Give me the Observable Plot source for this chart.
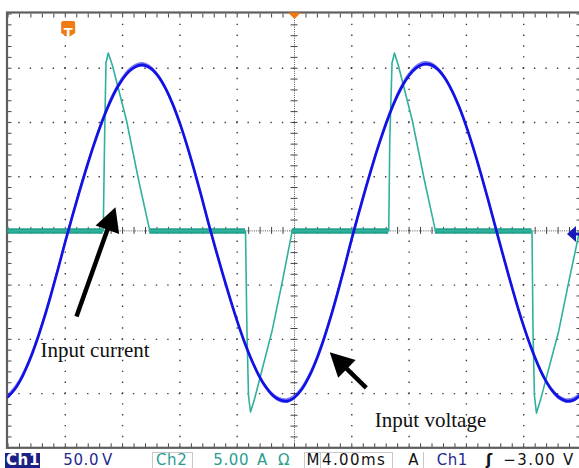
<!DOCTYPE html>
<html>
<head>
<meta charset="utf-8">
<script src="https://cdn.jsdelivr.net/npm/d3@7"></script>
<script src="https://cdn.jsdelivr.net/npm/@observablehq/plot@0.6"></script>
<style>
  html, body { margin: 0; padding: 0; background: #fff; overflow: hidden; }
  #scope { position: relative; width: 579px; height: 468px; overflow: hidden; background: #fff; }
  #scope svg { position: absolute; left: 0; top: 0; }
  #status { position: absolute; left: 0; top: 452.8px; width: 579px; height: 15px;
            font-family: "DejaVu Sans", sans-serif; font-size: 15px; line-height: 15px; letter-spacing: 0.6px; }
  #status span { position: absolute; top: 0; white-space: pre; }
  #status .sep { position: absolute; top: -1px; width: 0; height: 16px; border-left: 1px solid #c9c9c9; }
  #status .top { position: absolute; top: -1px; height: 0; border-top: 1px solid #c9c9c9; }
  #status .hl { position: absolute; top: -0.2px; height: 15.4px; background: #1b2184; }
</style>
</head>
<body>
<div id="scope"><div id="status"></div></div>
<script>
// ---- channel settings ----
const voltsPerDiv = 50;     // Ch1
const ampsPerDiv = 5;       // Ch2
const msPerDiv = 4;         // timebase
const triggerLevel = -3;    // V, rising edge on Ch1
const triggerMs = -15.8;    // trigger point on screen

// ---- Ch1: input voltage, sampled every 0.5 ms ----
const timeMs = d3.range(-20, 20.001, 0.5);
const ch1Volts = [
  -153.1, -145.5, -134.3, -119.6, -101.8, -81.4, -58.9, -34.9, -10.0,
  13.9, 36.8, 58.9, 79.6, 98.4, 115.0, 129.0, 139.9, 147.7, 152.0,
  152.9, 149.7, 142.5, 131.5, 116.9, 99.1, 78.7, 56.1, 32.0, 7.0,
  -17.0, -40.1, -62.3, -83.2, -102.2, -118.8, -132.9, -143.9, -151.7, -156.0,
  -156.9, -153.6, -146.3, -134.9, -119.9, -101.7, -80.7, -57.6, -32.9, -7.2,
  17.1, 40.5, 63.0, 83.9, 102.8, 119.3, 132.9, 143.3, 150.3, 153.7,
  153.3, 149.1, 141.0, 129.2, 114.2, 96.2, 75.7, 53.3, 29.5, 4.9,
  -19.6, -43.5, -66.5, -87.8, -106.9, -123.5, -137.1, -147.3, -154.0, -156.9,
  -155.9, -150.7
];

// ---- Ch2: input current ----
const ch2TimeMs = [
  -20, -13.35, -13.26, -13.16, -13.0, -12.7, -11.73, -10.87, -10.10,
  -3.42, -3.32, -3.21, -3.07, -2.79, -1.56, -0.84, -0.16,
  6.58, 6.65, 6.81, 6.98, 7.26, 8.22, 9.08, 9.84,
  16.58, 16.65, 16.75, 16.89, 17.17, 18.45, 19.13, 19.9
];
const ch2Amps = [
  0, 0, 8.3, 15.5, 16.4, 15.2, 10.2, 4.6, 0,
  0, -9.2, -15.2, -16.7, -15.5, -9.2, -4.6, 0,
  0, 8.3, 15.5, 16.4, 15.2, 10.2, 4.6, 0,
  0, -9.2, -15.2, -16.8, -15.6, -9.2, -4.8, 0
];

// ---- annotations (ms, V) ----
const labelText = ["Input current", "Input voltage"];
const labelAt = [[-17.73, -116.6], [5.61, -180.5]];
const arrowTail = [[-15.22, -78.9], [5.01, -144.7]];
const arrowTip = [[-12.50, 21.9], [2.46, -111.8]];

// ---- layout ----
const W = 581, H = 448;
const mt = 13.5, mr = 0.5, mb = 0.7, ml = 7.5;
const tMax = 5 * msPerDiv, vMax = 4 * voltsPerDiv;
const pxPerMs = (W - ml - mr) / (2 * tMax);
const pxPerV = (H - mt - mb) / (2 * vMax);
const minorMs = msPerDiv / 5, minorV = voltsPerDiv / 5;
const ampsToVolts = voltsPerDiv / ampsPerDiv;

const blue = "#1212e4", teal = "#2fb19e", orange = "#f07a14";

const voltage = timeMs.map((t, i) => ({t, v: ch1Volts[i]}));
const current = ch2TimeMs.map((t, i) => ({t, v: ch2Amps[i] * ampsToVolts}));
// stretches where the current sits at zero (drawn as the noisy baseline band)
const flats = current.slice(1)
  .map((d, i) => [current[i], d])
  .filter(([a, b]) => a.v === 0 && b.v === 0)
  .map(([a, b]) => ({t1: a.t, t2: b.t}));

// graticule positions
const majorT = d3.range(-tMax + msPerDiv, tMax, msPerDiv).filter(t => t !== 0);
const majorV = d3.range(-vMax + voltsPerDiv, vMax, voltsPerDiv).filter(v => v !== 0);
const minorTs = d3.range(-tMax, tMax + 1e-6, minorMs);
const minorVs = d3.range(-vMax, vMax + 1e-6, minorV);

// noise band of the Ch1 trace (vertical jitter of about ±2.4 px)
const jitter = 2.4 / pxPerV;

// arrows: filled head at the tip, shaft ending inside the head
const headLen = 24, headWid = 25;
const arrowHead = {
  draw(ctx) {
    ctx.moveTo(0, 0);
    ctx.lineTo(headWid / 2, headLen);
    ctx.lineTo(-headWid / 2, headLen);
    ctx.closePath();
  }
};
const arrows = arrowTail.map(([t0, v0], i) => {
  const [t1, v1] = arrowTip[i];
  const dx = (t1 - t0) * pxPerMs, dy = -(v1 - v0) * pxPerV;
  const len = Math.hypot(dx, dy), back = headLen - 4;
  return {
    t0, v0, t1, v1,
    ts: t1 - dx / len * back / pxPerMs,
    vs: v1 + dy / len * back / pxPerV,
    angle: Math.atan2(dx, -dy) * 180 / Math.PI
  };
});
const labels = labelText.map((text, i) => ({text, t: labelAt[i][0], v: labelAt[i][1]}));

// screen markers
const triggerTag = {
  draw(ctx) {
    ctx.moveTo(-5, -8); ctx.lineTo(5, -8);
    ctx.quadraticCurveTo(7, -8, 7, -6);
    ctx.lineTo(7, 4); ctx.lineTo(0, 8.5); ctx.lineTo(-7, 4);
    ctx.lineTo(-7, -6);
    ctx.quadraticCurveTo(-7, -8, -5, -8);
    ctx.closePath();
  }
};
const positionMark = {
  draw(ctx) { ctx.moveTo(-6.5, -6.5); ctx.lineTo(6.5, -6.5); ctx.lineTo(0, 0); ctx.closePath(); }
};
const groundMark = {
  draw(ctx) {
    ctx.moveTo(-14, 0); ctx.lineTo(-5, -8); ctx.lineTo(-5, -1.5); ctx.lineTo(2, -1.5);
    ctx.lineTo(2, 1.5); ctx.lineTo(-5, 1.5); ctx.lineTo(-5, 8); ctx.closePath();
  }
};

const grid = "#3d3d3d";
const chart = Plot.plot({
  width: W, height: H,
  marginTop: mt, marginRight: mr, marginBottom: mb, marginLeft: ml,
  x: {domain: [-tMax, tMax], axis: null},
  y: {domain: [-vMax, vMax], axis: null},
  style: {background: "white", maxWidth: "none", overflow: "visible"},
  marks: [
    // dotted graticule
    Plot.ruleX(majorT, {x: d => d, stroke: grid, strokeWidth: 1.4,
      strokeDasharray: `1.4 ${(pxPerV * minorV - 1.4).toFixed(3)}`, strokeDashoffset: 0.7}),
    Plot.ruleY(majorV, {y: d => d, stroke: grid, strokeWidth: 1.4,
      strokeDasharray: `1.4 ${(pxPerMs * minorMs - 1.4).toFixed(3)}`, strokeDashoffset: 0.7}),
    // centre crosshair with minor ticks
    Plot.ruleX([0], {x: d => d, stroke: "#555", strokeWidth: 1, strokeDasharray: "1 1.2"}),
    Plot.ruleY([0], {y: d => d, stroke: "#555", strokeWidth: 1, strokeDasharray: "1 1.2"}),
    Plot.ruleX(minorTs, {x: d => d, y1: -3.5 / pxPerV, y2: 3.5 / pxPerV, stroke: "#444", strokeWidth: 1}),
    Plot.ruleY(minorVs, {y: d => d, x1: -3.5 / pxPerMs, x2: 3.5 / pxPerMs, stroke: "#444", strokeWidth: 1}),
    // border ticks
    Plot.ruleX(minorTs, {x: d => d, y1: vMax, y2: vMax - 4 / pxPerV, stroke: "#444", strokeWidth: 1}),
    Plot.ruleX(minorTs, {x: d => d, y1: -vMax, y2: -vMax + 4 / pxPerV, stroke: "#444", strokeWidth: 1}),
    Plot.ruleY(minorVs, {y: d => d, x1: -tMax, x2: -tMax + 4 / pxPerMs, stroke: "#444", strokeWidth: 1}),
    Plot.ruleY(minorVs, {y: d => d, x1: tMax, x2: tMax - 4 / pxPerMs, stroke: "#444", strokeWidth: 1}),
    Plot.frame({stroke: "#5e5e5e", strokeWidth: 2.2, insetTop: -1.5, insetLeft: -1}),

    // Ch2: input current
    Plot.ruleY(flats, {y: () => 0, x1: "t1", x2: "t2", stroke: "#22a18c", strokeWidth: 5.5}),
    Plot.line(current, {x: "t", y: "v", stroke: teal, strokeWidth: 1.6, strokeLinejoin: "round", clip: true}),

    // Ch1: input voltage
    Plot.areaY(voltage, {x: "t", y1: d => d.v - jitter, y2: d => d.v + jitter,
      fill: blue, fillOpacity: 0.55, curve: "catmull-rom", clip: true}),
    Plot.line(voltage, {x: "t", y: "v", stroke: blue, strokeWidth: 2.7, curve: "catmull-rom", clip: true}),

    // trigger point tag and horizontal position marker
    Plot.dot([triggerMs], {x: d => d, frameAnchor: "top", dy: 15, symbol: triggerTag, fill: orange, stroke: "none"}),
    Plot.text([triggerMs], {x: d => d, frameAnchor: "top", dy: 14, text: () => "T", fill: "white",
      fontWeight: "bold", fontSize: 13, fontFamily: "DejaVu Sans"}),
    Plot.dot([0], {x: d => d, frameAnchor: "top", dy: 5, symbol: positionMark, fill: orange, stroke: "none"}),
    // Ch1 ground level
    Plot.dot([0], {x: () => tMax, y: d => d, dy: 3, symbol: groundMark, fill: "#1818b8", stroke: "none"}),

    // annotation arrows and labels
    Plot.link(arrows, {x1: "t0", y1: "v0", x2: "ts", y2: "vs", stroke: "black", strokeWidth: 4.5}),
    Plot.dot(arrows, {x: "t1", y: "v1", rotate: "angle", symbol: arrowHead, fill: "black", stroke: "none"}),
    Plot.text(labels, {x: "t", y: "v", text: "text", textAnchor: "start", lineAnchor: "bottom",
      fontFamily: "Liberation Serif, Times New Roman, serif", fontSize: 21, fill: "#111"})
  ]
});
document.getElementById("scope").prepend(chart);

// ---- readout bar ----
const navy = "#1f2a8e", tealText = "#2a9d8f";
const readout = [
  {x: 6, text: "Ch1", color: "white", bold: true},
  {x: 63.3, text: voltsPerDiv.toFixed(1), color: navy},
  {x: 102, text: "V", color: navy},
  {x: 156, text: "Ch2", color: tealText},
  {x: 213.3, text: ampsPerDiv.toFixed(2), color: tealText},
  {x: 257, text: "A", color: tealText},
  {x: 278, text: "Ω", color: tealText},
  {x: 306.5, text: "M", color: "#111"},
  {x: 322, text: msPerDiv.toFixed(2) + "ms", color: "#111", spacing: "1.4px"},
  {x: 408.3, text: "A", color: "#111"},
  {x: 436.7, text: "Ch1", color: navy},
  {x: 486, text: "ʃ", color: "#111", bold: true},
  {x: 503.3, text: "\u2212" + Math.abs(triggerLevel).toFixed(2), color: "#111", spacing: "1.4px"},
  {x: 563, text: "V", color: "#111"}
];
const bar = document.getElementById("status");
const hl = document.createElement("div");
hl.className = "hl"; hl.style.left = "5px"; hl.style.width = "35px";
bar.appendChild(hl);
for (const [a, b] of [[152, 192], [304, 320], [320, 392]]) {
  for (const x of [a, b]) {
    const s = document.createElement("div");
    s.className = "sep"; s.style.left = x + "px"; bar.appendChild(s);
  }
  const t = document.createElement("div");
  t.className = "top"; t.style.left = a + "px"; t.style.width = (b - a) + "px"; bar.appendChild(t);
}
const sA = document.createElement("div");
sA.className = "sep"; sA.style.left = "423px"; bar.appendChild(sA);
for (const r of readout) {
  const s = document.createElement("span");
  s.textContent = r.text;
  s.style.left = r.x + "px";
  s.style.color = r.color;
  if (r.bold) s.style.fontWeight = "bold";
  if (r.spacing) s.style.letterSpacing = r.spacing;
  bar.appendChild(s);
}
</script>
</body>
</html>
